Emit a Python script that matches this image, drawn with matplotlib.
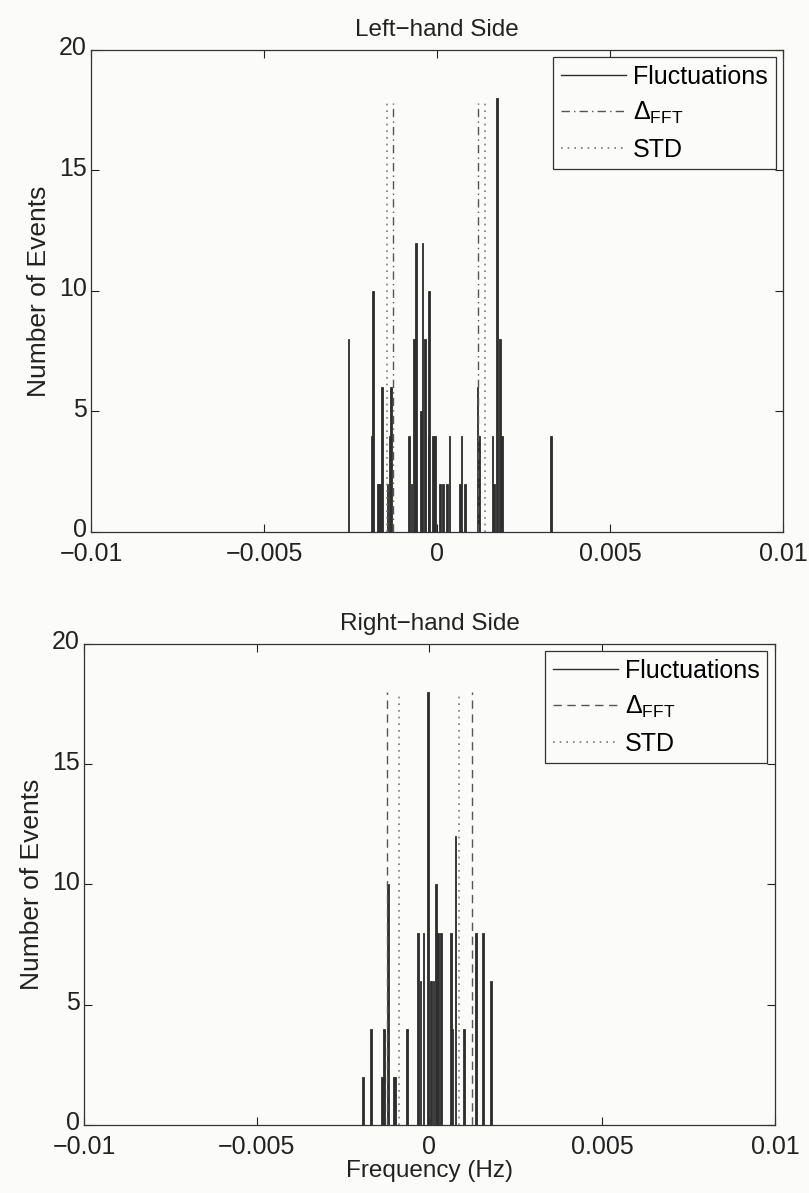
import matplotlib
matplotlib.use("Agg")
import matplotlib.pyplot as plt
import matplotlib.transforms as mtransforms
from matplotlib.lines import Line2D

plt.rcParams['font.family'] = ['Liberation Sans', 'DejaVu Sans']
plt.rcParams['mathtext.fontset'] = 'custom'
plt.rcParams['mathtext.rm'] = 'Liberation Sans'
plt.rcParams['mathtext.it'] = 'Liberation Sans'

# histogram of frequency fluctuations, left-hand side
lh_freq = [-0.00256, -0.00189, -0.00184, -0.00170, -0.00165, -0.00158, -0.00143,
           -0.00137, -0.00134, -0.00080, -0.00074, -0.00066, -0.00061, -0.00046,
           -0.00042, -0.00035, -0.00025, -0.00023, -0.00011, -0.00006, 0.00009,
           0.00018, 0.00028, 0.00036, 0.00066, 0.00071, 0.00080, 0.00117, 0.00122,
           0.00160, 0.00164, 0.00174, 0.00182, 0.00187, 0.00330]
lh_count = [8, 4, 10, 2, 2, 6, 2,
            4, 6, 4, 2, 8, 12, 5,
            12, 8, 4, 10, 4, 4, 2,
            2, 2, 4, 2, 4, 2, 6, 4,
            4, 2, 18, 8, 4, 4]
lh_fft = [-0.00126, 0.00119]
lh_std = [-0.00145, 0.00139]
lh_mark_h = 17.8

# right-hand side
rh_freq = [-0.00193, -0.00170, -0.00138, -0.00132, -0.00120, -0.00104, -0.00099,
           -0.00065, -0.00034, -0.00026, -0.00017, -0.00005, 0.00005, 0.00012,
           0.00019, 0.00024, 0.00034, 0.00063, 0.00067, 0.00075, 0.00101,
           0.00135, 0.00154, 0.00178]
rh_count = [2, 4, 2, 4, 10, 2, 2,
            4, 8, 6, 8, 18, 6, 6,
            10, 8, 8, 8, 4, 12, 4,
            8, 8, 6]
rh_fft = [-0.00123, 0.00124]
rh_std = [-0.00088, 0.00085]
rh_mark_h = 18.0

xticks = [-0.01, -0.005, 0, 0.005, 0.01]
xtick_labels = ['\u22120.01', '\u22120.005', '0', '0.005', '0.01']
yticks = [0, 5, 10, 15, 20]

bar_col = '#2e2e2e'
line_col = '#555555'
bg = '#fbfbfa'

fig = plt.figure(figsize=(8.09, 11.93), dpi=100, facecolor=bg)
ax1 = fig.add_axes([0.1125, 0.5541, 0.8554, 0.404])
ax2 = fig.add_axes([0.1038, 0.0570, 0.8541, 0.4032])


def draw(ax, freq, count, fft, std, h, fft_style, title):
    ax.set_facecolor(bg)
    ax.bar(freq, count, width=0.00005, color=bar_col, edgecolor=bar_col,
           linewidth=0.6, zorder=2)
    ax.vlines(fft, 0, h, colors=line_col, linestyles=fft_style, linewidth=1.0, zorder=3)
    ax.vlines(std, 0, h, colors='#777777', linestyles=(0, (1, 3)), linewidth=1.2, zorder=3)
    ax.set_xlim(-0.01, 0.01)
    ax.set_ylim(0, 20)
    ax.set_xticks(xticks)
    ax.set_xticklabels(xtick_labels)
    ax.set_yticks(yticks)
    ax.tick_params(direction='in', top=True, right=True, length=6, width=0.8,
                   labelsize=18, colors='#222222')
    ax.tick_params(axis='x', pad=7)
    ax.tick_params(axis='y', pad=3)
    # nudge the y tick labels up a little so "0" clears the x labels
    lift = mtransforms.ScaledTranslation(0, 3 / 72, fig.dpi_scale_trans)
    for lab in ax.get_yticklabels():
        lab.set_transform(lab.get_transform() + lift)
    for s in ax.spines.values():
        s.set_linewidth(0.9)
        s.set_color('#333333')
    ax.set_title(title, fontsize=17.5, pad=10, color='#222222')
    ax.set_ylabel('Number of Events', fontsize=19, color='#222222', labelpad=6)

    handles = [Line2D([], [], color=bar_col, linewidth=1.0),
               Line2D([], [], color=line_col, linestyle=fft_style, linewidth=1.0),
               Line2D([], [], color='#777777', linestyle=(0, (1, 3)), linewidth=1.2)]
    leg = ax.legend(handles, ['Fluctuations', r'$\Delta_{\mathrm{FFT}}$', 'STD'],
                    loc='upper right', fontsize=18, handlelength=2.6,
                    handletextpad=0.3, borderpad=0.3, labelspacing=0.45,
                    borderaxespad=0.3, fancybox=False, framealpha=1)
    leg.get_frame().set_edgecolor('#333333')
    leg.get_frame().set_linewidth(0.9)
    leg.get_frame().set_facecolor(bg)


draw(ax1, lh_freq, lh_count, lh_fft, lh_std, lh_mark_h, (0, (6, 3, 1, 3)), 'Left\u2212hand Side')
draw(ax2, rh_freq, rh_count, rh_fft, rh_std, rh_mark_h, (0, (6, 4)), 'Right\u2212hand Side')
ax2.set_xlabel('Frequency (Hz)', fontsize=17.5, color='#222222', labelpad=1)

fig.savefig('out.png', dpi=100, facecolor=bg)
